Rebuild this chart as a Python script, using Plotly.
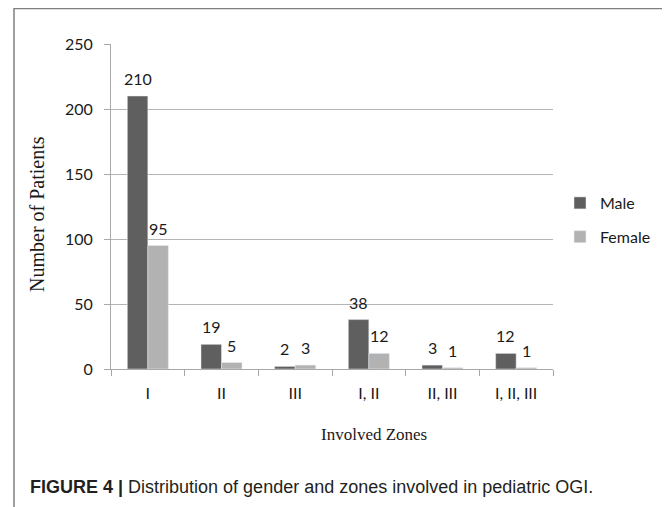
import plotly.graph_objects as go

zones = ["I", "II", "III", "I, II", "II, III", "I, II, III"]
male = [210, 19, 2, 38, 3, 12]
female = [95, 5, 3, 12, 1, 1]
y_ticks = [0, 50, 100, 150, 200, 250]

MALE_C = "#5f5f5f"
FEMALE_C = "#b2b2b2"

# page body adds an 8px offset; work in screen pixels and convert
OFF = 8
W, H = 670 - OFF, 507 - OFF
PL, PR, PT, PB = 111, 553, 44, 369   # plot area in screen pixels
L, T = PL - OFF, PT - OFF
R = W - (PR - OFF)
B = H - (PB - OFF)
pw = PR - PL
ph = PB - PT

def px(xs):
    return (xs - PL) / pw

def py(ys):
    return (PB - ys) / ph

fig = go.Figure()
fig.add_trace(go.Bar(x=zones, y=male, name="Male", marker_color=MALE_C,
                     legendgroup="m"))
fig.add_trace(go.Bar(x=zones, y=female, name="Female", marker_color=FEMALE_C,
                     legendgroup="f"))

bargap = 0.443
cat_w = pw / len(zones)
bar_w = cat_w * (1 - bargap) / 2

label_font = dict(family="Lato", size=16, color="#1a1a1a")
for vals, sgn in ((male, -1), (female, 1)):
    for z, v in zip(zones, vals):
        fig.add_annotation(x=z, y=v, xref="x", yref="y", text=str(v),
                           showarrow=False, yanchor="bottom", xanchor="center",
                           xshift=sgn * bar_w / 2, yshift=6, font=label_font)

# axis titles
fig.add_annotation(x=px(374), y=py(434), xref="paper", yref="paper",
                   xanchor="center", yanchor="middle",
                   text="Involved Zones", showarrow=False,
                   font=dict(family="Liberation Serif", size=17, color="#1a1a1a"))
fig.add_annotation(x=px(37), y=py(214), xref="paper", yref="paper",
                   xanchor="center", yanchor="middle",
                   text="Number of Patients", showarrow=False, textangle=-90,
                   font=dict(family="Liberation Serif", size=20, color="#1a1a1a"))

# caption
fig.add_annotation(x=px(28), y=py(487), xref="paper", yref="paper",
                   xanchor="left", yanchor="middle", showarrow=False,
                   text="<b>FIGURE 4 |</b> Distribution of gender and zones involved in pediatric OGI.",
                   font=dict(family="Liberation Sans", size=18, color="#231f20"))

# frame
fig.add_shape(type="rect", xref="paper", yref="paper",
              x0=px(14), x1=px(666), y0=py(540), y1=py(8.5),
              line=dict(color="#808080", width=1.5), layer="below")

fig.update_layout(
    width=W, height=H,
    margin=dict(l=L, r=R, t=T, b=B, autoexpand=False),
    paper_bgcolor="white", plot_bgcolor="white",
    barmode="group", bargap=bargap, bargroupgap=0,
    showlegend=True,
    legend=dict(x=px(560), y=py(220), xanchor="left", yanchor="middle",
                font=dict(family="Lato", size=16, color="#1a1a1a"),
                traceorder="grouped", tracegroupgap=10,
                bgcolor="rgba(0,0,0,0)"),
    xaxis=dict(type="category", showline=True, linecolor="#a8a8a8", linewidth=1,
               ticks="outside", tickson="boundaries", ticklen=6, tickcolor="#a8a8a8",
               tickfont=dict(family="Lato", size=16, color="#1a1a1a"),
               ticklabelstandoff=10, showgrid=False),
    yaxis=dict(range=[0, 250], tickvals=y_ticks, showline=True, linecolor="#a8a8a8",
               linewidth=1, ticks="outside", ticklen=6, tickcolor="#a8a8a8",
               gridcolor="#b4b4b4", gridwidth=1, zeroline=False,
               tickfont=dict(family="Lato", size=16, color="#1a1a1a"),
               ticklabelstandoff=8),
)

fig.write_html("out.html")
